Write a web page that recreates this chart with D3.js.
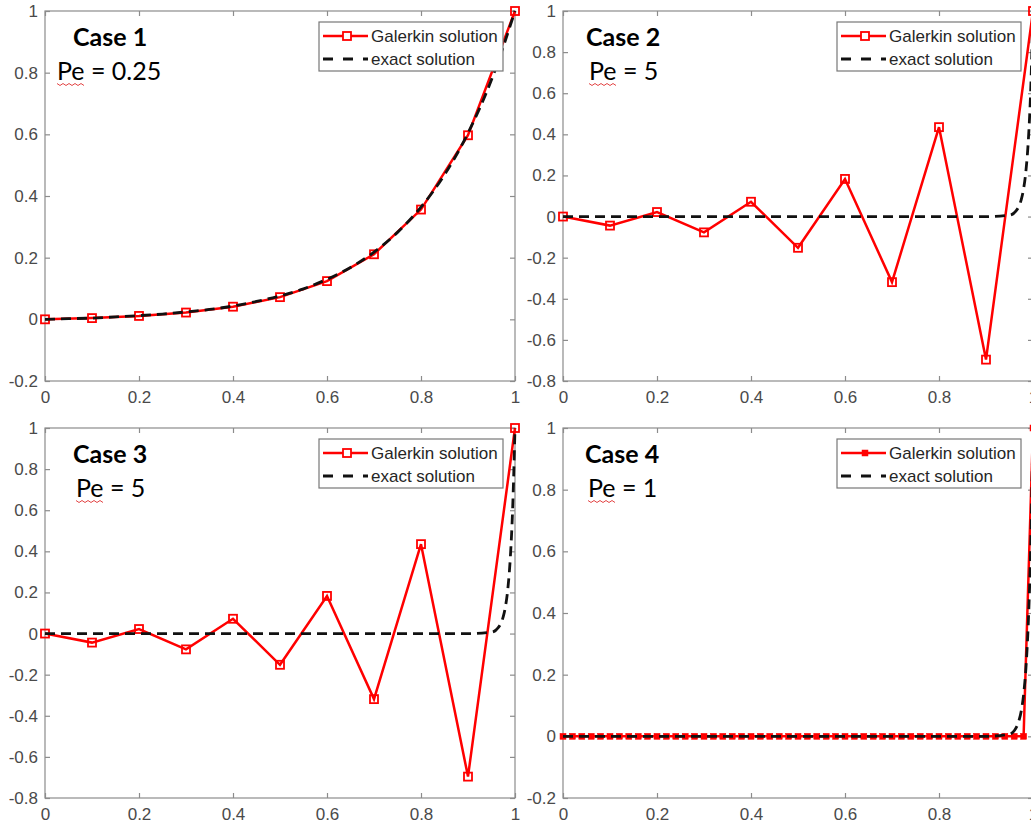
<!DOCTYPE html>
<html>
<head>
<meta charset="utf-8">
<script src="https://cdn.jsdelivr.net/npm/d3@7"></script>
<style>
  body { margin: 0; background: #fff; }
  svg { display: block; }
</style>
</head>
<body>
<div id="chart"></div>
<script>
// Define constants and variables
const width = 1031;
const height = 830;
const plotW = 470;
const plotH = 370;

// x ticks shared by every panel
const xTicks = [0, 0.2, 0.4, 0.6, 0.8, 1];
const yTicksShort = [-0.2, 0, 0.2, 0.4, 0.6, 0.8, 1];
const yTicksLong = [-0.8, -0.6, -0.4, -0.2, 0, 0.2, 0.4, 0.6, 0.8, 1];

// 10-element mesh nodes (cases 1-3)
const nodes10 = [0, 0.1, 0.2, 0.3, 0.4, 0.5, 0.6, 0.7, 0.8, 0.9, 1];
const galerkinCase1 = [0, 0.004, 0.011, 0.022, 0.041, 0.072, 0.124, 0.211, 0.356, 0.597, 1];
const galerkinCase2 = [0, -0.044, 0.022, -0.077, 0.072, -0.152, 0.183, -0.319, 0.435, -0.696, 1];
const galerkinCase3 = [0, -0.044, 0.022, -0.077, 0.072, -0.152, 0.183, -0.319, 0.435, -0.696, 1];

// 50-element mesh nodes (case 4)
const nodes50 = [0, 0.02, 0.04, 0.06, 0.08, 0.1, 0.12, 0.14, 0.16, 0.18, 0.2, 0.22, 0.24, 0.26, 0.28,
  0.3, 0.32, 0.34, 0.36, 0.38, 0.4, 0.42, 0.44, 0.46, 0.48, 0.5, 0.52, 0.54, 0.56, 0.58, 0.6, 0.62,
  0.64, 0.66, 0.68, 0.7, 0.72, 0.74, 0.76, 0.78, 0.8, 0.82, 0.84, 0.86, 0.88, 0.9, 0.92, 0.94, 0.96,
  0.98, 1];
const galerkinCase4 = [0, 0, 0, 0, 0, 0, 0, 0, 0, 0, 0, 0, 0, 0, 0, 0, 0, 0, 0, 0, 0, 0, 0, 0, 0, 0,
  0, 0, 0, 0, 0, 0, 0, 0, 0, 0, 0, 0, 0, 0, 0, 0, 0, 0, 0, 0, 0, 0, 0, 0, 1];

// exact solutions
const exactSmoothX = [0, 0.05, 0.1, 0.15, 0.2, 0.25, 0.3, 0.35, 0.4, 0.45, 0.5, 0.55, 0.6, 0.65, 0.7,
  0.75, 0.8, 0.85, 0.9, 0.95, 1];
const exactSmoothY = [0, 0.002, 0.004, 0.008, 0.012, 0.017, 0.024, 0.032, 0.043, 0.058, 0.076, 0.099,
  0.13, 0.168, 0.218, 0.282, 0.364, 0.469, 0.604, 0.777, 1];
const exactSteepX = [0, 0.9, 0.95, 0.96, 0.97, 0.975, 0.98, 0.985, 0.99, 0.995, 1];
const exactSteepY = [0, 0, 0.007, 0.018, 0.05, 0.082, 0.135, 0.223, 0.368, 0.607, 1];

const titles = ["Case 1", "Case 2", "Case 3", "Case 4"];
const pecletLabels = ["Pe = 0.25", "Pe = 5", "Pe = 5", "Pe = 1"];
const legendLabels = ["Galerkin solution", "exact solution"];

const red = "#ff0000";
const axisGray = "#8c8c8c";
const labelGray = "#4a4a4a";

const panels = [
  { left: 45, top: 11, yTicks: yTicksShort, gx: nodes10, gy: galerkinCase1, ex: exactSmoothX, ey: exactSmoothY,
    filled: false, caseDx: 28, peDx: 12 },
  { left: 563, top: 11, yTicks: yTicksLong, gx: nodes10, gy: galerkinCase2, ex: exactSteepX, ey: exactSteepY,
    filled: false, caseDx: 23, peDx: 26 },
  { left: 45, top: 428, yTicks: yTicksLong, gx: nodes10, gy: galerkinCase3, ex: exactSteepX, ey: exactSteepY,
    filled: false, caseDx: 28, peDx: 31 },
  { left: 563, top: 428, yTicks: yTicksShort, gx: nodes50, gy: galerkinCase4, ex: exactSteepX, ey: exactSteepY,
    filled: true, caseDx: 22, peDx: 25 }
];

const svg = d3.select("#chart").append("svg")
  .attr("width", width)
  .attr("height", height)
  .style("font-family", "'Liberation Sans', Arial, sans-serif");

const fmt = d => String(+d.toFixed(1));

panels.forEach((p, i) => {
  const x = d3.scaleLinear().domain([0, 1]).range([0, plotW]);
  const y = d3.scaleLinear().domain([p.yTicks[0], 1]).range([plotH, 0]);
  const g = svg.append("g").attr("transform", `translate(${p.left},${p.top})`);

  // axes box
  g.append("rect")
    .attr("width", plotW).attr("height", plotH)
    .attr("fill", "none").attr("stroke", axisGray).attr("stroke-width", 1.2);

  // ticks point inward like MATLAB
  const styleAxis = sel => {
    sel.select(".domain").remove();
    sel.selectAll(".tick line").attr("stroke", axisGray).attr("stroke-width", 1.2);
    sel.selectAll(".tick text").attr("fill", labelGray).style("font-size", "17px");
  };
  g.append("g").attr("transform", `translate(0,${plotH})`)
    .call(d3.axisBottom(x).tickValues(xTicks).tickFormat(fmt).tickSizeInner(-5).tickSizeOuter(0).tickPadding(10))
    .call(styleAxis);
  g.append("g")
    .call(d3.axisTop(x).tickValues(xTicks).tickFormat("").tickSizeInner(-5).tickSizeOuter(0))
    .call(styleAxis);
  g.append("g")
    .call(d3.axisLeft(y).tickValues(p.yTicks).tickFormat(fmt).tickSizeInner(-5).tickSizeOuter(0).tickPadding(7))
    .call(styleAxis);
  g.append("g").attr("transform", `translate(${plotW},0)`)
    .call(d3.axisRight(y).tickValues(p.yTicks).tickFormat("").tickSizeInner(-5).tickSizeOuter(0))
    .call(styleAxis);

  // Galerkin solution
  const gPts = p.gx.map((v, k) => [v, p.gy[k]]);
  const line = d3.line().x(d => x(d[0])).y(d => y(d[1]));
  g.append("path").datum(gPts)
    .attr("d", line)
    .attr("fill", "none").attr("stroke", red).attr("stroke-width", 2.5);
  const ms = p.filled ? 6 : 8;
  g.selectAll(".mk").data(gPts).enter().append("rect")
    .attr("class", "mk")
    .attr("x", d => x(d[0]) - ms / 2).attr("y", d => y(d[1]) - ms / 2)
    .attr("width", ms).attr("height", ms)
    .attr("fill", p.filled ? red : "none")
    .attr("stroke", red).attr("stroke-width", p.filled ? 0.5 : 1.8);

  // exact solution
  const ePts = p.ex.map((v, k) => [v, p.ey[k]]);
  g.append("path").datum(ePts)
    .attr("d", d3.line().x(d => x(d[0])).y(d => y(d[1])).curve(d3.curveMonotoneX))
    .attr("fill", "none").attr("stroke", "#111").attr("stroke-width", 2.8)
    .attr("stroke-dasharray", "10,6");

  // case titles
  g.append("text")
    .attr("x", p.caseDx).attr("y", 35)
    .attr("font-family", "Lato, 'Open Sans', sans-serif").attr("font-weight", "bold")
    .attr("font-size", 25).attr("fill", "#000")
    .text(titles[i]);
  g.append("text")
    .attr("x", p.peDx).attr("y", 69)
    .attr("font-family", "Lato, 'Open Sans', sans-serif")
    .attr("font-size", 25).attr("fill", "#000")
    .text(pecletLabels[i]);

  // red squiggle under "Pe" (spell check mark)
  let sq = `M${p.peDx},${72.5}`;
  for (let k = 1; k <= 9; k++) sq += ` L${p.peDx + k * 3},${k % 2 ? 74.5 : 72.5}`;
  g.append("path").attr("d", sq).attr("fill", "none").attr("stroke", "#e03030").attr("stroke-width", 0.9);

  // legend
  const lg = g.append("g").attr("transform", "translate(274,11)");
  lg.append("rect").attr("width", 184).attr("height", 49)
    .attr("fill", "#fff").attr("stroke", "#777").attr("stroke-width", 1.2);
  lg.append("line").attr("x1", 4).attr("x2", 49).attr("y1", 14).attr("y2", 14)
    .attr("stroke", red).attr("stroke-width", 2.5);
  lg.append("rect")
    .attr("x", 28 - ms / 2).attr("y", 14 - ms / 2).attr("width", ms).attr("height", ms)
    .attr("fill", p.filled ? red : "#fff").attr("stroke", red).attr("stroke-width", p.filled ? 0.5 : 1.8);
  lg.append("line").attr("x1", 4).attr("x2", 49).attr("y1", 37).attr("y2", 37)
    .attr("stroke", "#111").attr("stroke-width", 2.8).attr("stroke-dasharray", "10,10");
  legendLabels.forEach((t, k) => {
    lg.append("text")
      .attr("x", 52).attr("y", 14 + k * 23 + 6)
      .attr("font-size", 17).attr("fill", "#262626")
      .text(t);
  });
});
</script>
</body>
</html>
